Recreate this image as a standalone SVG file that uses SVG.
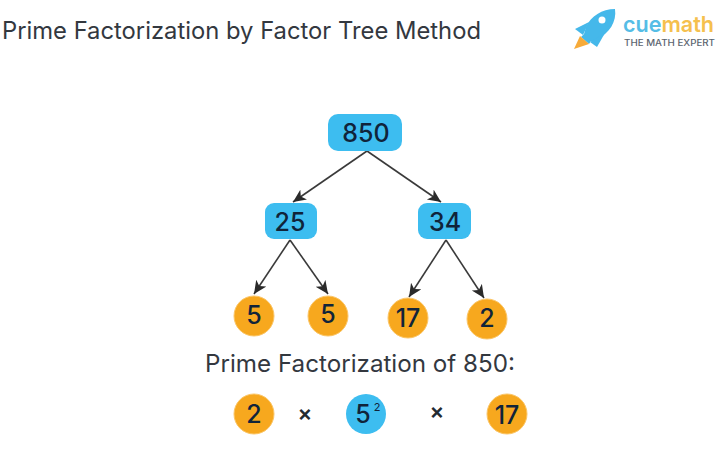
<svg xmlns="http://www.w3.org/2000/svg" width="720" height="451" viewBox="0 0 720 451">
<style>
text{font-family:"Inter","Liberation Sans",sans-serif;fill:#222a33}
.num{font-size:25px;font-weight:500;text-anchor:middle;fill:#10243a}
.box{fill:#3dbdf0}
.org{fill:#f7a81e;stroke:#fbc668;stroke-width:1}
.blu{fill:#3dbdf0}
.con line{stroke:#3a3a3a;stroke-width:1.6;marker-end:url(#a)}
</style>
<defs><marker id="a" markerUnits="userSpaceOnUse" markerWidth="15" markerHeight="14" refX="13" refY="6" orient="auto"><path d="M0 0L13 6L0 12L3.500 6Z" fill="#2a2a2a"/></marker></defs>
<rect width="720" height="451" fill="#fff"/>
<text x="2" y="39" font-size="24" textLength="479" lengthAdjust="spacingAndGlyphs" style="fill:#33383f">Prime Factorization by Factor Tree Method</text>
<g id="logo">
<path d="M586 27C591 16 602 9 615 9C617 22 609 33 598 39L597 46L591 41L589 44L581 37L584 34Z" fill="#45b8ea"/>
<path d="M575 29L589 22L583 35Z" fill="#45b8ea"/>
<path d="M597 47L605 33L590 42Z" fill="#45b8ea"/>
<circle cx="602" cy="20" r="3.500" fill="#fff"/>
<path d="M580 36L589 44L574 49Z" fill="#f7ab3a"/>
<text x="623" y="32" font-size="22" font-weight="600" textLength="91" lengthAdjust="spacingAndGlyphs" style="fill:#55bde6">cue<tspan style="fill:#f5c04e">math</tspan></text>
<text x="624" y="46" font-size="8.500" font-weight="500" textLength="91" lengthAdjust="spacingAndGlyphs" style="fill:#5c6570">THE MATH EXPERT</text>
</g>
<g id="connectors" class="con">
<line x1="367" y1="151" x2="293" y2="202"/>
<line x1="367" y1="151" x2="441" y2="202"/>
<line x1="290" y1="240" x2="254" y2="294"/>
<line x1="290" y1="240" x2="328" y2="294"/>
<line x1="446" y1="240" x2="409" y2="297"/>
<line x1="446" y1="240" x2="484" y2="298"/>
</g>
<g id="n850"><rect class="box" x="328" y="114" width="74" height="37" rx="10"/><text class="num" x="366" y="142">850</text></g>
<g id="n25"><rect class="box" x="265" y="203" width="52" height="36" rx="9"/><text class="num" x="290" y="231">25</text></g>
<g id="n34"><rect class="box" x="418" y="203" width="53" height="36" rx="9"/><text class="num" x="445" y="231">34</text></g>
<g id="n5a"><circle class="org" cx="254" cy="316" r="20"/><text class="num" x="254" y="324">5</text></g>
<g id="n5b"><circle class="org" cx="328" cy="316" r="20"/><text class="num" x="328" y="323">5</text></g>
<g id="n17"><circle class="org" cx="408" cy="318" r="20"/><text class="num" x="408" y="327">17</text></g>
<g id="n2"><circle class="org" cx="487" cy="319" r="20"/><text class="num" x="487" y="327">2</text></g>
<text x="205" y="372" font-size="24" textLength="310" lengthAdjust="spacingAndGlyphs" style="fill:#33383f">Prime Factorization of 850:</text>
<g id="r2"><circle class="org" cx="254" cy="414" r="20"/><text class="num" x="254" y="423">2</text></g>
<text x="305" y="421" font-size="22" text-anchor="middle" font-weight="600">×</text>
<g id="r5"><circle class="blu" cx="366" cy="414" r="20"/><text class="num" x="363" y="423">5</text><text x="377" y="411" font-size="11" text-anchor="middle" style="fill:#10243a">2</text></g>
<text x="437" y="419" font-size="22" text-anchor="middle" font-weight="600">×</text>
<g id="r17"><circle class="org" cx="507" cy="414" r="20"/><text class="num" x="507" y="424">17</text></g>
</svg>
